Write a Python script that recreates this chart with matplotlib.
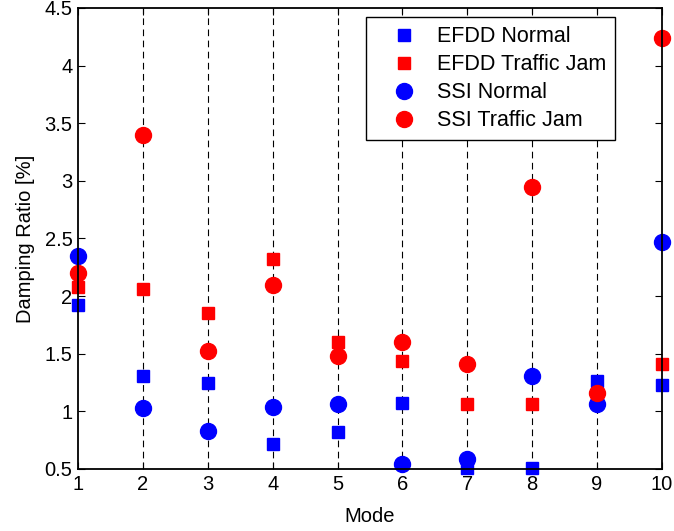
import matplotlib
matplotlib.use('Agg')
import matplotlib.pyplot as plt

plt.rcParams['font.family'] = ['Liberation Sans', 'DejaVu Sans']

modes = [1, 2, 3, 4, 5, 6, 7, 8, 9, 10]
efdd_normal = [1.92, 1.31, 1.25, 0.72, 0.82, 1.07, 0.51, 0.51, 1.26, 1.23]
ssi_normal = [2.35, 1.03, 0.83, 1.04, 1.06, 0.54, 0.585, 1.31, 1.06, 2.47]
ssi_jam = [2.20, 3.40, 1.52, 2.10, 1.48, 1.60, 1.41, 2.95, 1.16, 4.24]
# mode 9 has no EFDD traffic jam square visible
efdd_jam_modes = [1, 2, 3, 4, 5, 6, 7, 8, 10]
efdd_jam = [2.08, 2.06, 1.85, 2.32, 1.60, 1.44, 1.06, 1.06, 1.41]

fs = 14.5

fig, ax = plt.subplots(figsize=(6.74, 5.31), dpi=100)
fig.subplots_adjust(left=0.1157, right=0.9822, top=0.985, bottom=0.1168)

for m in modes[1:-1]:
    ax.axvline(m, color='black', linestyle=(0, (6, 4)), linewidth=0.8, zorder=0)

ax.plot(modes, efdd_normal, 's', color='blue', markersize=8.4, clip_on=False,
        label='EFDD Normal')
ax.plot(efdd_jam_modes, efdd_jam, 's', color='red', markersize=8.4, clip_on=False,
        label='EFDD Traffic Jam')
ax.plot(modes, ssi_normal, 'o', color='blue', markersize=11.5, clip_on=False,
        label='SSI Normal')
ax.plot(modes, ssi_jam, 'o', color='red', markersize=11.5, clip_on=False,
        label='SSI Traffic Jam')

ax.set_xlim(1, 10)
ax.set_ylim(0.5, 4.5)
ax.set_xticks(modes)
ax.set_yticks([0.5, 1, 1.5, 2, 2.5, 3, 3.5, 4, 4.5])
ax.set_yticklabels(['0.5', '1', '1.5', '2', '2.5', '3', '3.5', '4', '4.5'])
ax.tick_params(direction='in', top=True, right=True, length=5, labelsize=fs,
               width=0.8)
ax.tick_params(axis='x', pad=4)
ax.tick_params(axis='y', pad=4)
for s in ax.spines.values():
    s.set_linewidth(1.3)

ax.set_xlabel('Mode', fontsize=fs, labelpad=10)
ax.set_ylabel('Damping Ratio [%]', fontsize=fs, labelpad=7)

leg = ax.legend(loc='upper right', bbox_to_anchor=(0.92, 0.98), borderaxespad=0,
                fontsize=15.5, fancybox=False, edgecolor='black', framealpha=1,
                handlelength=2.68, handletextpad=0.19, labelspacing=0.32,
                borderpad=0.43)
leg.get_frame().set_linewidth(1.0)

fig.savefig('out.png', dpi=100)
